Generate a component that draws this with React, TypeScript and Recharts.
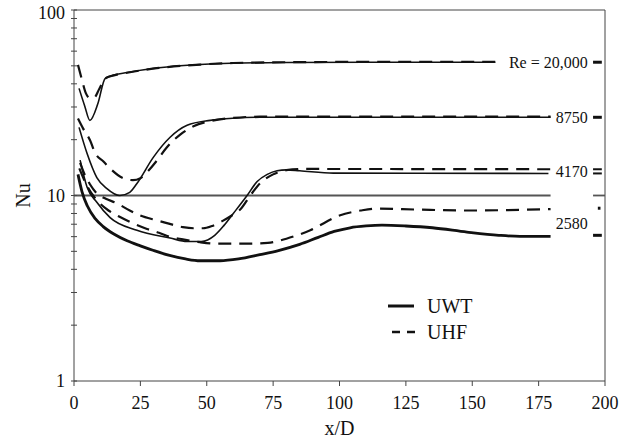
import React from 'react';
import { LineChart, Line, XAxis, YAxis, ReferenceLine, ReferenceDot, Legend } from 'recharts';

type Pt = [number, number];

// x/D, Nu pairs
const re20000Uwt: Pt[] = [[1.9, 37.8], [4, 30.5], [6, 25.4], [9, 31.3], [11.7, 42.7], [14.7, 44.5], [20, 46], [32, 48.8], [47.5, 50.8], [59, 51.6], [80, 52.1], [110, 52.3], [158.7, 52.3]];
const re20000Uhf: Pt[] = [[1.5, 50.6], [3, 42], [4.5, 35.5], [6, 33.5], [7.5, 33.6], [9.5, 37.5], [11.7, 42.7], [15, 44.4], [20, 45.9], [32, 48.7], [47.5, 50.8], [60, 51.8], [80, 52.3], [110, 52.5], [158.7, 52.5]];
const re8750Uwt: Pt[] = [[1.9, 23.3], [4.9, 16.9], [8.6, 12.5], [12.4, 10.9], [17.3, 10.0], [21, 10.4], [23.7, 11.6], [29.8, 16], [36.2, 20.6], [42.6, 23.9], [51.3, 25.4], [60, 26.1], [70, 26.4], [179.5, 26.4]];
const re8750Uhf: Pt[] = [[1.5, 26], [3.4, 23], [6, 19.9], [8, 16.9], [11, 15.3], [14.3, 13.7], [18, 12.5], [22.2, 12.1], [25, 12.4], [28, 13.6], [31, 15.3], [35, 18.2], [40, 21.3], [45, 23.6], [52, 25.3], [60, 26.2], [70, 26.6], [179.5, 26.6]];
const re4170Uwt: Pt[] = [[2.3, 15.5], [4.9, 11.1], [8.6, 9.2], [13.6, 7.6], [23.7, 6.5], [36.2, 5.9], [42.6, 5.65], [48, 5.65], [53, 6.1], [56.5, 6.9], [60, 8.0], [65.2, 10], [69, 11.9], [72.8, 13.0], [76.5, 13.6], [80, 13.75], [85, 13.6], [97.7, 13.2], [178.7, 13.15]];
const re4170Uhf: Pt[] = [[2.3, 15], [4, 13], [6, 11.5], [8.5, 10.3], [12, 9.6], [16, 9.1], [21, 8.3], [25, 7.8], [31, 7.36], [35, 7.1], [41, 6.75], [45, 6.66], [48.6, 6.66], [52, 6.85], [56, 7.3], [60, 7.9], [62.6, 8.4], [66.4, 10], [70, 11.6], [75, 13.0], [80, 13.7], [85, 13.9], [179.5, 13.85]];
const re2580Uwt: Pt[] = [[1.5, 13], [3, 10.5], [5, 8.8], [8, 7.5], [11, 6.8], [15, 6.2], [20, 5.7], [25, 5.35], [30, 5.05], [36, 4.75], [42, 4.55], [47.5, 4.45], [55, 4.45], [62, 4.55], [70, 4.8], [77, 5.05], [85, 5.45], [92, 5.95], [98, 6.4], [104, 6.7], [110, 6.85], [116, 6.92], [125, 6.85], [135, 6.7], [148, 6.35], [160, 6.1], [168, 6.02], [179.5, 6.02]];
const re2580Uhf: Pt[] = [[2, 14], [5, 11.2], [9, 9.3], [13, 8.3], [17, 7.7], [22, 7.1], [27.5, 6.6], [32, 6.3], [36, 6.0], [41, 5.8], [47.5, 5.6], [54, 5.5], [65, 5.5], [73, 5.55], [80, 5.85], [89, 6.5], [100, 7.8], [108, 8.3], [114, 8.5], [129, 8.4], [148, 8.3], [179.5, 8.45]];

// Nu = 10 reference line and right-hand end marks
const tenLine: Pt[] = [[0, 10], [179.5, 10]];
const tenMark: Pt[] = [[195.5, 10], [200, 10]];
const endMarkValues = [52.3, 26.4, 13.85, 13.15, 6.1];
const endMarkX = [195.5, 198.8];
const endDotValue = 8.54;
const endDotX = [197.3, 198.3];

// curve labels
const reLabels = ['Re = 20,000', '8750', '4170', '2580'];
const reLabelNu = [52.3, 26.4, 13.5, 7.1];
const reLabelX = 193.5;

const xTicks = [0, 25, 50, 75, 100, 125, 150, 175, 200];
const yTicks = [1, 2, 3, 4, 5, 6, 7, 8, 9, 10, 20, 30, 40, 50, 60, 70, 80, 90, 100];
const yLabels = [1, 10, 100];

const FONT = 'Liberation Serif';
const INK = '#111';
const AXIS = '#444';

const toData = (pts: Pt[]) => pts.map(([x, y]) => ({ x, y }));

const T = (props: any) => <text fontFamily={FONT} style={{ fontFamily: FONT }} fill={INK} {...props} />;

const YTick = (props: any) => {
  const { x, y, payload } = props;
  const v = payload.value;
  const major = yLabels.includes(v);
  return (
    <g>
      <line x1={x - 3} x2={x + 3} y1={y} y2={y} stroke={AXIS} strokeWidth={1} />
      {major && (
        <T x={x - 9} y={y + (v === 100 ? 3 : 0)} dy="0.35em" textAnchor="end" fontSize={18}>
          {v}
        </T>
      )}
    </g>
  );
};

const XTick = (props: any) => {
  const { x, y, payload } = props;
  return (
    <T x={x} y={y} dy="0.71em" textAnchor="middle" fontSize={18}>
      {payload.value}
    </T>
  );
};

const LegendBox = () => (
  <svg width={110} height={60}>
    <line x1={8} x2={34} y1={16} y2={16} stroke={INK} strokeWidth={3} />
    <T x={47} y={16} dy="0.35em" fontSize={20}>UWT</T>
    <line x1={12} x2={35} y1={42} y2={42} stroke={INK} strokeWidth={2.5} strokeDasharray="8 7" />
    <T x={47} y={42} dy="0.35em" fontSize={20}>UHF</T>
  </svg>
);

const NuLabel = (props: any) => {
  const { viewBox } = props;
  const cx = viewBox.x + 23;
  const cy = viewBox.y + viewBox.height / 2;
  return (
    <T x={cx} y={cy} transform={`rotate(-90 ${cx} ${cy})`} textAnchor="middle" dy="0.35em" fontSize={20}>
      Nu
    </T>
  );
};

const XDLabel = (props: any) => {
  const { viewBox } = props;
  return (
    <T x={viewBox.x + viewBox.width / 2} y={viewBox.y + viewBox.height - 4} textAnchor="middle" fontSize={20}>
      x/D
    </T>
  );
};

const ReLabel = (props: any) => {
  const { viewBox, value } = props;
  return (
    <T x={viewBox.x} y={viewBox.y} dy="0.35em" textAnchor="end" fontSize={16}>
      {value}
    </T>
  );
};

const solidThin = { stroke: INK, strokeWidth: 1.6 };
const dashed = { stroke: INK, strokeWidth: 2.2, strokeDasharray: '13 8' };

export default function App() {
  const curves: { d: Pt[]; s: any }[] = [
    { d: re20000Uwt, s: solidThin },
    { d: re20000Uhf, s: dashed },
    { d: re8750Uwt, s: solidThin },
    { d: re8750Uhf, s: dashed },
    { d: re4170Uwt, s: solidThin },
    { d: re4170Uhf, s: dashed },
    { d: re2580Uwt, s: { stroke: INK, strokeWidth: 2.8 } },
    { d: re2580Uhf, s: dashed },
  ];
  return (
    <div style={{ position: 'absolute', left: 0, top: 0 }}>
      <LineChart width={627} height={439} margin={{ top: 10, right: 22, bottom: 0, left: 0 }}>
        <XAxis
          type="number"
          dataKey="x"
          domain={[0, 200]}
          ticks={xTicks}
          height={58}
          tickSize={5}
          tickMargin={10}
          axisLine={{ stroke: AXIS }}
          tickLine={{ stroke: AXIS }}
          tick={<XTick />}
          label={<XDLabel />}
          allowDataOverflow
        />
        <YAxis
          type="number"
          scale="log"
          domain={[1, 100]}
          ticks={yTicks}
          width={74}
          tickSize={0}
          tickMargin={0}
          tickLine={false}
          axisLine={{ stroke: AXIS }}
          tick={<YTick />}
          label={<NuLabel />}
          allowDataOverflow
          interval={0}
        />
        <ReferenceLine y={100} stroke={AXIS} />
        <ReferenceLine x={200} stroke={AXIS} />
        <Line data={toData(tenLine)} dataKey="y" stroke="#555" strokeWidth={1.8} dot={false} isAnimationActive={false} legendType="none" />
        <Line data={toData(tenMark)} dataKey="y" stroke="#555" strokeWidth={1.8} dot={false} isAnimationActive={false} legendType="none" />
        {curves.map((c, i) => (
          <Line
            key={i}
            data={toData(c.d)}
            dataKey="y"
            type="monotone"
            dot={false}
            isAnimationActive={false}
            legendType="none"
            {...c.s}
          />
        ))}
        {endMarkValues.map((v, i) => (
          <Line
            key={'m' + i}
            data={endMarkX.map((x) => ({ x, y: v }))}
            dataKey="y"
            stroke={INK}
            strokeWidth={i === 2 || i === 3 ? 2 : 3}
            dot={false}
            isAnimationActive={false}
            legendType="none"
          />
        ))}
        <Line data={endDotX.map((x) => ({ x, y: endDotValue }))} dataKey="y" stroke={INK} strokeWidth={3} dot={false} isAnimationActive={false} legendType="none" />
        {reLabels.map((t, i) => (
          <ReferenceDot
            key={'l' + i}
            x={reLabelX}
            y={reLabelNu[i]}
            r={0}
            fill="none"
            stroke="none"
            label={<ReLabel value={t} />}
          />
        ))}
        <Legend
          content={<LegendBox />}
          layout="horizontal"
          verticalAlign="middle"
          align="center"
          wrapperStyle={{ position: 'absolute', left: 380, top: 290, width: 110, height: 60 }}
        />
      </LineChart>
    </div>
  );
}
